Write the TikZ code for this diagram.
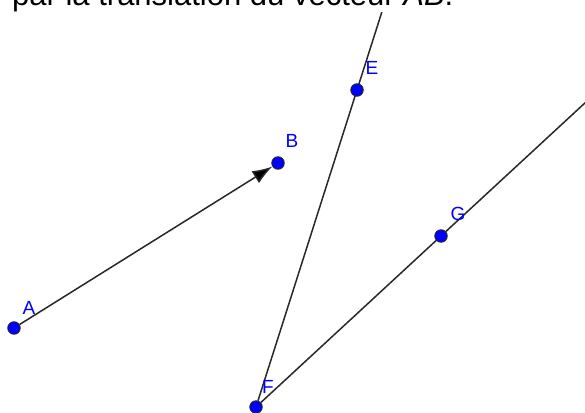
\documentclass[tikz,border=0pt]{standalone}
\usepackage{fontspec}
\setmainfont{Liberation Sans}
\usepackage{xcolor}
\usepackage{tikz}
\usetikzlibrary{arrows.meta,calc,backgrounds}
\definecolor{ptblue}{RGB}{0,0,255}
\definecolor{linegray}{RGB}{40,40,40}
\tikzset{
  ptdot/.style={
    circle,
    fill=ptblue,
    draw=black!85,
    line width=0.9pt,
    minimum size=12.5pt,
    inner sep=0pt
  },
  ptlabel/.style={
    text=ptblue,
    inner sep=0pt,
    font=\fontsize{19}{19}\selectfont
  },
  rayline/.style={
    draw=linegray,
    line width=1.5pt
  },
  vecarrow/.style={
    -{Latex[length=20pt,width=14pt,fill=black]},
    draw=linegray,
    line width=1.5pt
  }
}

\begin{document}
\begin{tikzpicture}[x=1pt,y=-1pt]
\useasboundingbox (0,0) rectangle (585,412);
\node[anchor=base west, inner sep=0pt, fill=white, font=\fontsize{31}{36}\selectfont] (title) at (12,6) {par la translation du vecteur $\overrightarrow{\textit{AB}}$.};

\node[ptdot] (A) at (14,328) {};
\node[ptdot] (B) at (278,163) {};
\node[ptdot] (E) at (357,90) {};
\node[ptdot] (F) at (256,407) {};
\node[ptdot] (G) at (441,236) {};

\node[ptlabel] (labA) at (29,308) {A};
\node[ptlabel] (labB) at (292,141) {B};
\node[ptlabel] (labE) at (372,68) {E};
\node[ptlabel] (labF) at (268,387) {F};
\node[ptlabel] (labG) at (458,214) {G};

\coordinate (Eend) at ($(F)!1.4!(E)$);
\coordinate (Gend) at ($(F)!2!(G)$);

\begin{scope}[on background layer]
\draw[vecarrow] (A) -- (B);
\draw[rayline] (F) -- (Eend);
\draw[rayline] (F) -- (Gend);
\end{scope}
\end{tikzpicture}
\end{document}
